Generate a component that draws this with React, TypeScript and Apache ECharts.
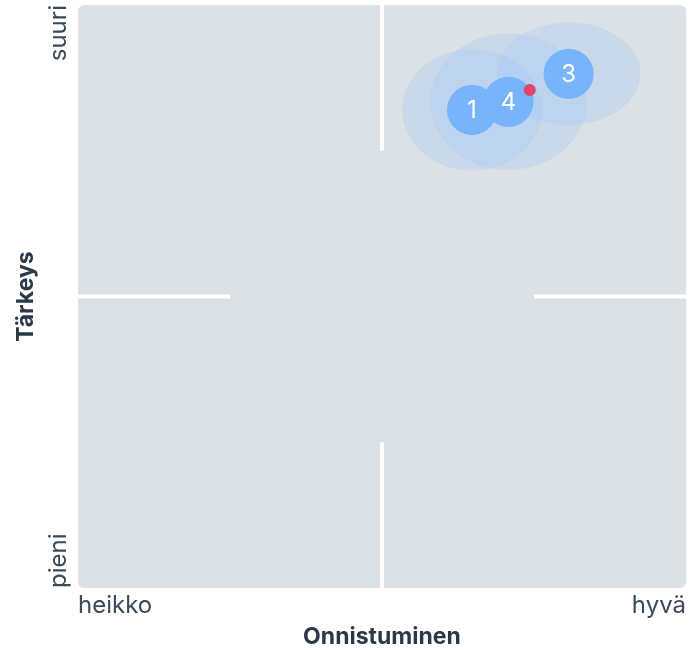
import React, { useEffect, useRef } from "react";
import * as echarts from "echarts";

// Axis texts
const xLabels = ["heikko", "hyvä"];
const yLabels = ["pieni", "suuri"];
const xTitle = "Onnistuminen";
const yTitle = "Tärkeys";

// Items (mean position and spread)
const itemNames = ["1", "4", "3"];
const itemX = [64.8, 70.8, 80.7];
const itemY = [82.0, 83.4, 88.2];
const itemSpreadX = [11.5, 12.9, 11.8];
const itemSpreadY = [10.4, 11.7, 8.8];

// Overall mean point
const meanX = [74.3];
const meanY = [85.4];

// Quadrant divider segments [x1, y1, x2, y2]
const dividerSegments = [
  [50, 0, 50, 25],
  [50, 75, 50, 100],
  [0, 50, 25, 50],
  [75, 50, 100, 50],
];

const FONT = "Inter, 'Noto Sans', sans-serif";

export default function App() {
  const ref = useRef<HTMLDivElement>(null);

  useEffect(() => {
    document.body.style.margin = "0";
    if (!ref.current) return;
    const chart = echarts.init(ref.current, null, { renderer: "svg" });

    const gridLeft = 78;
    const gridTop = 5;
    const gridRight = 3;
    const gridBottom = 62;
    const W = 689;
    const H = 650;

    const option: any = {
      animation: false,
      textStyle: { fontFamily: FONT },
      graphic: [
        {
          type: "rect",
          z: -10,
          silent: true,
          shape: {
            x: gridLeft,
            y: gridTop,
            width: W - gridLeft - gridRight,
            height: H - gridTop - gridBottom,
            r: 6,
          },
          style: { fill: "#dbe1e4" },
        },
      ],
      grid: {
        left: gridLeft,
        top: gridTop,
        right: gridRight,
        bottom: gridBottom,
        containLabel: false,
        outerBoundsMode: "none",
      },
      xAxis: {
        type: "value",
        min: 0,
        max: 100,
        interval: 100,
        axisLine: { show: false },
        axisTick: { show: false },
        splitLine: { show: false },
        axisLabel: {
          formatter: (v: number) => (v === 0 ? xLabels[0] : xLabels[1]),
          alignMinLabel: "left",
          alignMaxLabel: "right",
          fontSize: 24,
          color: "#3b4959",
          fontFamily: FONT,
          margin: 4,
        },
        name: xTitle,
        nameLocation: "middle",
        nameGap: 36,
        nameTextStyle: {
          fontSize: 23,
          fontWeight: "bold",
          color: "#2a3847",
          fontFamily: FONT,
        },
      },
      yAxis: {
        type: "value",
        min: 0,
        max: 100,
        interval: 100,
        axisLine: { show: false },
        axisTick: { show: false },
        splitLine: { show: false },
        axisLabel: {
          formatter: (v: number) => (v === 0 ? yLabels[0] : yLabels[1]),
          rotate: 90,
          alignMinLabel: "left",
          alignMaxLabel: "right",
          fontSize: 24,
          color: "#3b4959",
          fontFamily: FONT,
          margin: 9,
        },
        name: yTitle,
        nameLocation: "middle",
        nameGap: 42,
        nameRotate: 90,
        nameTextStyle: {
          fontSize: 23,
          fontWeight: "bold",
          color: "#2a3847",
          fontFamily: FONT,
        },
      },
      series: [
        ...dividerSegments.map((s) => ({
          type: "line",
          data: [
            [s[0], s[1]],
            [s[2], s[3]],
          ],
          symbol: "none",
          silent: true,
          z: 1,
          lineStyle: { color: "#ffffff", width: 4, cap: "butt" },
        })),
        {
          type: "custom",
          silent: true,
          z: 2,
          data: itemX.map((x, i) => [x, itemY[i], itemSpreadX[i], itemSpreadY[i]]),
          renderItem: (params: any, api: any) => {
            const c = api.coord([api.value(0), api.value(1)]);
            const s = api.size([api.value(2), api.value(3)]);
            return {
              type: "ellipse",
              shape: { cx: c[0], cy: c[1], rx: s[0], ry: s[1] },
              style: { fill: "rgba(150,195,250,0.25)" },
            };
          },
        },
        {
          type: "scatter",
          z: 3,
          symbolSize: 50,
          itemStyle: { color: "#77b4fb", opacity: 1 },
          label: {
            show: true,
            position: "inside",
            formatter: "{b}",
            color: "#ffffff",
            fontSize: 24,
            fontFamily: FONT,
          },
          data: itemX.map((x, i) => ({ name: itemNames[i], value: [x, itemY[i]] })),
        },
        {
          type: "scatter",
          z: 4,
          symbolSize: 12,
          itemStyle: { color: "#e2446a", opacity: 1 },
          data: meanX.map((x, i) => [x, meanY[i]]),
        },
      ],
    };

    chart.setOption(option);
    return () => chart.dispose();
  }, []);

  return (
    <div
      ref={ref}
      style={{ position: "fixed", left: 0, top: 0, width: 689, height: 650 }}
    />
  );
}
